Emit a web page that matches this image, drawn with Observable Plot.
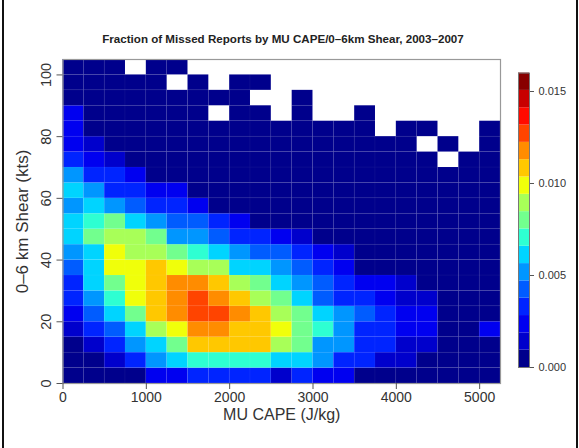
<!DOCTYPE html>
<html><head><meta charset="utf-8">
<script src="https://cdn.jsdelivr.net/npm/d3@7"></script>
<script src="https://cdn.jsdelivr.net/npm/@observablehq/plot@0.6"></script>
<style>
html,body{margin:0;padding:0;background:#fff;}
#wrap{position:relative;width:579px;height:448px;overflow:hidden;font-family:"Liberation Sans",Arial,sans-serif;}
#title{position:absolute;left:0;width:566px;top:32px;text-align:center;font-size:11.6px;line-height:13px;font-weight:bold;color:#222;}
.edge{position:absolute;top:0;bottom:0;width:1.5px;background:#111;}
</style></head><body>
<div id="wrap">
<div id="main" style="position:absolute;left:0;top:0"></div>
<div id="bar" style="position:absolute;left:500px;top:0"></div>
<div id="title">Fraction of Missed Reports by MU CAPE/0–6km Shear, 2003–2007</div>
<div class="edge" style="left:2px"></div>
<div class="edge" style="left:576px"></div>
</div>
<script>
// Bin lower edges
const capeBins = [0,250,500,750,1000,1250,1500,1750,2000,2250,2500,2750,3000,3250,3500,3750,4000,4250,4500,4750,5000];
const shearBins = [0,5,10,15,20,25,30,35,40,45,50,55,60,65,70,75,80,85,90,95,100];
const capeStep = 250;
const shearStep = 5;
const capeTicks = [0,1000,2000,3000,4000,5000];
const shearTicks = [0,20,40,60,80,100];
const colorTicks = [0,0.005,0.010,0.015];
const colorMax = 0.016;
const palette = ["#00008c","#0000cc","#0000f0","#0024ff","#005cff","#0096ff","#00d4ff","#2effd2","#72ff8e","#a8ff58","#f0ff0a","#ffc800","#ff8c00","#ff4400","#ff0a00","#c80000","#880000"];
const xLabel = "MU CAPE (J/kg)";
const yLabel = "0–6 km Shear (kts)";

// fraction of missed reports; rows = shear bins (0–5 kts first), columns = CAPE bins; null = no data
const fraction = [
 [.0005,.0005,.0005,.0005,.0024,.0024,.0033,.0033,.0033,.0033,.0014,.0033,.0024,.0024,.0005,.0005,.0005,.0005,.0005,.0005,.0005],
 [.0005,.0005,.0014,.0033,.0052,.0061,.0071,.0071,.0071,.0071,.0061,.0061,.0052,.0033,.0033,.0014,.0014,.0005,.0005,.0005,.0005],
 [.0005,.0014,.0033,.0052,.0061,.0080,.0108,.0108,.0108,.0108,.0089,.0080,.0052,.0052,.0033,.0033,.0014,.0014,.0005,.0005,.0005],
 [.0014,.0033,.0042,.0061,.0089,.0099,.0118,.0118,.0108,.0108,.0099,.0080,.0071,.0052,.0033,.0033,.0024,.0024,.0005,.0005,.0024],
 [.0024,.0042,.0061,.0080,.0108,.0118,.0127,.0127,.0118,.0108,.0089,.0080,.0061,.0052,.0042,.0033,.0024,.0024,.0005,.0005,.0005],
 [.0033,.0052,.0071,.0099,.0108,.0118,.0127,.0118,.0108,.0089,.0080,.0061,.0042,.0033,.0033,.0024,.0014,.0014,.0005,.0005,.0005],
 [.0033,.0061,.0080,.0099,.0108,.0118,.0118,.0108,.0089,.0080,.0061,.0052,.0042,.0033,.0024,.0024,.0014,.0005,.0005,.0005,.0005],
 [.0042,.0061,.0099,.0099,.0108,.0099,.0089,.0089,.0061,.0061,.0052,.0042,.0033,.0024,.0005,.0005,.0005,.0005,.0005,.0005,.0005],
 [.0052,.0061,.0099,.0089,.0089,.0080,.0071,.0061,.0052,.0042,.0042,.0033,.0024,.0014,.0005,.0005,.0005,.0005,.0005,.0005,.0005],
 [.0061,.0080,.0089,.0089,.0080,.0052,.0052,.0042,.0033,.0033,.0024,.0014,.0005,.0005,.0005,.0005,.0005,.0005,.0005,.0005,.0005],
 [.0061,.0071,.0080,.0061,.0052,.0042,.0042,.0033,.0024,.0005,.0005,.0005,.0005,.0005,.0005,.0005,.0005,.0005,.0005,.0005,.0005],
 [.0052,.0061,.0052,.0042,.0033,.0033,.0024,.0005,.0005,.0005,.0005,.0005,.0005,.0005,.0005,.0005,.0005,.0005,.0005,.0005,.0005],
 [.0061,.0052,.0033,.0033,.0024,.0024,.0005,.0005,.0005,.0005,.0005,.0005,.0005,.0005,.0005,.0005,.0005,.0005,.0005,.0005,.0005],
 [.0052,.0033,.0033,.0024,.0005,.0005,.0005,.0005,.0005,.0005,.0005,.0005,.0005,.0005,.0005,.0005,.0005,.0005,.0005,.0005,.0005],
 [.0033,.0024,.0014,.0005,.0005,.0005,.0005,.0005,.0005,.0005,.0005,.0005,.0005,.0005,.0005,.0005,.0005,.0005,null,.0005,.0005],
 [.0024,.0014,.0005,.0005,.0005,.0005,.0005,.0005,.0005,.0005,.0005,.0005,.0005,.0005,.0005,.0005,.0005,null,.0005,null,.0005],
 [.0024,.0005,.0005,.0005,.0005,.0005,.0005,.0005,.0005,.0005,.0005,.0005,.0005,.0005,.0005,null,.0005,.0005,null,null,.0005],
 [.0024,.0005,.0005,.0005,.0005,.0005,.0005,null,.0005,.0005,null,.0005,null,null,.0005,null,null,null,null,null,null],
 [.0005,.0005,.0005,.0005,.0005,.0005,.0005,.0005,.0005,null,null,.0005,null,null,null,null,null,null,null,null,null],
 [.0005,.0005,.0005,.0005,.0005,null,.0005,null,.0005,.0005,null,null,null,null,null,null,null,null,null,null,null],
 [.0005,.0005,.0005,null,.0005,.0005,null,null,null,null,null,null,null,null,null,null,null,null,null,null,null]
];

const nLevels = palette.length;
const colorScale = {
  type: "threshold",
  domain: d3.range(1, nLevels).map(k => k * colorMax / nLevels),
  range: palette
};

const cells = [];
fraction.forEach((row, j) => row.forEach((v, i) => {
  if (v != null) cells.push({x1: capeBins[i], x2: capeBins[i] + capeStep, y1: shearBins[j], y2: shearBins[j] + shearStep, v});
}));

const font = "'Liberation Sans', Arial, sans-serif";

const main = Plot.plot({
  width: 579, height: 448,
  marginLeft: 62.5, marginRight: 79, marginTop: 59, marginBottom: 65,
  x: {domain: [0, capeBins[capeBins.length-1] + capeStep], axis: null},
  y: {domain: [0, shearBins[shearBins.length-1] + shearStep], axis: null},
  color: colorScale,
  style: {fontFamily: font, color: "#333", background: "transparent", overflow: "visible"},
  marks: [
    Plot.rect(cells, {x1: "x1", x2: "x2", y1: "y1", y2: "y2", fill: "v", stroke: "#ffffff", strokeOpacity: 0.04, strokeWidth: 0.8}),
    Plot.frame({stroke: "#999", strokeWidth: 1.2}),
    Plot.axisX(capeTicks, {tickSize: 6, tickPadding: 3, tickFormat: d => String(d), fontSize: 14, stroke: "#555", fill: "#333", label: null}),
    Plot.axisY(shearTicks, {tickSize: 6, tickPadding: 6, tickRotate: -90, tickFormat: d => String(d), fontSize: 14.5, stroke: "#555", fill: "#333", label: null}),
    Plot.text([xLabel], {frameAnchor: "bottom", dy: 36, fontSize: 16, fill: "#333", text: d => d}),
    Plot.text([yLabel], {frameAnchor: "left", dx: -40, rotate: -90, textAnchor: "middle", fontSize: 17, fill: "#333", text: d => d})
  ]
});
document.getElementById("main").append(main);

const barCells = palette.map((c, k) => ({lo: k * colorMax / nLevels, hi: (k + 1) * colorMax / nLevels}));
const bar = Plot.plot({
  width: 79, height: 448,
  marginLeft: 18, marginRight: 50, marginTop: 72.6, marginBottom: 81,
  x: {domain: [0, 1], axis: null},
  y: {domain: [0, colorMax], axis: null},
  color: colorScale,
  style: {fontFamily: font, color: "#333", background: "transparent", overflow: "visible"},
  marks: [
    Plot.rect(barCells, {x1: 0, x2: 1, y1: "lo", y2: "hi", fill: d => (d.lo + d.hi) / 2}),
    Plot.frame({stroke: "#777"}),
    Plot.axisY(colorTicks, {anchor: "right", tickSize: 4, tickPadding: 5, tickFormat: d3.format(".3f"), fontSize: 11, stroke: "#555", fill: "#333", label: null})
  ]
});
document.getElementById("bar").append(bar);
</script>
</body></html>
